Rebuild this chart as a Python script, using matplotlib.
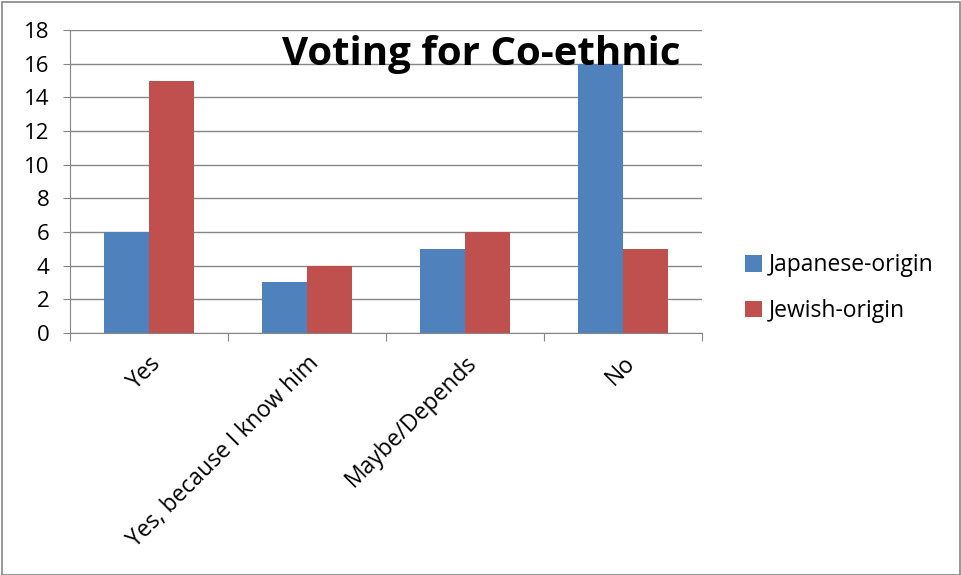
import matplotlib as mpl
import matplotlib.pyplot as plt
from matplotlib.patches import Rectangle
import numpy as np

mpl.rc('font', family='Open Sans')

categories = ['Yes', 'Yes, because I know him', 'Maybe/Depends', 'No']
japanese = [6, 3, 5, 16]
jewish = [15, 4, 6, 5]

blue = '#4F81BD'
red = '#C0504D'
grid_c = '#868686'

fig = plt.figure(figsize=(9.62, 5.75), dpi=100)
ax = fig.add_axes([0.0728, 0.4209, 0.6569, 0.5269])

x = np.arange(len(categories))
w = 0.2857
ax.bar(x - w / 2, japanese, w, color=blue, label='Japanese-origin', zorder=3)
ax.bar(x + w / 2, jewish, w, color=red, label='Jewish-origin', zorder=3)

ax.set_xlim(-0.5, len(categories) - 0.5)
ax.set_ylim(0, 18)
ax.set_yticks(range(0, 19, 2))
ax.tick_params(axis='y', labelsize=16, length=5, color=grid_c, pad=10)
ax.yaxis.grid(True, color=grid_c, linewidth=1, zorder=0)

# category labels between boundary ticks
ax.set_xticks(np.arange(-0.5, len(categories), 1.0))
ax.set_xticklabels([])
ax.tick_params(axis='x', length=6, color=grid_c)
ax.set_xticks(x, minor=True)
ax.set_xticklabels(categories, minor=True, rotation=45, ha='right',
                   rotation_mode='anchor', fontsize=16.5)
ax.tick_params(axis='x', which='minor', length=0, pad=13)

for s in ['top', 'right']:
    ax.spines[s].set_visible(False)
ax.spines['left'].set_color(grid_c)
ax.spines['bottom'].set_color(grid_c)

fig.text(0.5, 0.905, 'Voting for Co-ethnic', fontsize=29, fontweight='bold',
         ha='center', va='center')

fig.legend(loc='center left', bbox_to_anchor=(0.753, 0.499), frameon=False,
           fontsize=16.5, handlelength=0.75, handleheight=0.75, labelspacing=0.95,
           handletextpad=0.3)

fig.patches.append(Rectangle((0.002, 0.0), 0.996, 0.997, transform=fig.transFigure,
                             fill=False, edgecolor='#868686', linewidth=1.2))

plt.savefig('out.png', dpi=100)
